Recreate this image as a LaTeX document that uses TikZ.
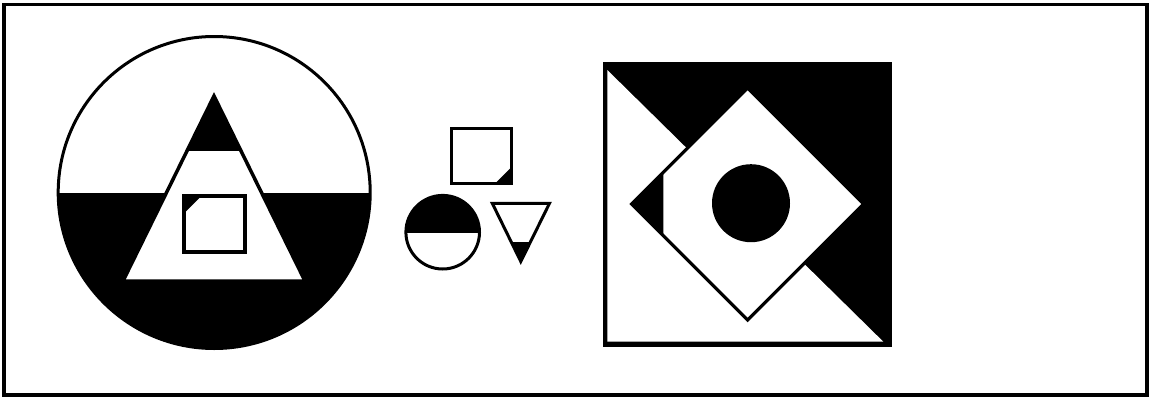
\documentclass[tikz,border=0pt]{standalone}
\begin{document}
\begin{tikzpicture}[x=1pt,y=-1pt,
  outline/.style={draw=black,line join=miter,fill=white},
  solid/.style={fill=black}]
\useasboundingbox (0,0) rectangle (1149,397);
\fill[white] (0,0) rectangle (1149,397);
% frame
\draw[line width=3.7] (4.3,4.5) rectangle (1147,395);

% ---- left circle ----
\coordinate (C1) at (214.2,192.5);
\begin{scope}
  \clip (C1) circle (156);
  \fill[black] (50,192.5) rectangle (380,360);
\end{scope}
\draw[line width=3] (C1) circle (156);
% triangle
\coordinate (TA) at (214,96);
\coordinate (TL) at (123,281);
\coordinate (TR) at (305,281);
\draw[outline,line width=3.5] (TA) -- (TL) -- (TR) -- cycle;
\begin{scope}
  \clip (TA) -- (TL) -- (TR) -- cycle;
  \fill[black] (100,80) rectangle (330,151);
\end{scope}
% inner square
\draw[outline,line width=4] (184,196.3) rectangle (245.3,252.3);
\fill[solid] (184,196.3) -- (201,196.3) -- (184,213.3) -- cycle;

% ---- middle ----
\draw[outline,line width=3] (451,128.2) rectangle (511.8,183.5);
\fill[solid] (511.8,183.5) -- (495,183.5) -- (511.8,166.7) -- cycle;

\coordinate (C2) at (442.7,232.2);
\begin{scope}
  \clip (C2) circle (36.8);
  \fill[white] (400,190) rectangle (490,275);
  \fill[black] (400,190) rectangle (490,233);
\end{scope}
\draw[line width=3] (C2) circle (36.8);

\coordinate (VA) at (492.3,203.3);
\coordinate (VB) at (549.5,203.3);
\coordinate (VC) at (520.8,261.5);
\draw[outline,line width=3] (VA) -- (VB) -- (VC) -- cycle;
\begin{scope}
  \clip (VA) -- (VB) -- (VC) -- cycle;
  \fill[black] (480,241.7) rectangle (560,270);
\end{scope}

% ---- right square ----
\fill[black] (603.3,61.7) rectangle (891.7,346.7);
\fill[white] (607.3,70) -- (607.3,341.7) -- (883.3,341.7) -- cycle;
\coordinate (DT) at (747.6,88);
\coordinate (DR) at (863.6,204);
\coordinate (DB) at (747.6,320);
\coordinate (DL) at (631.6,204);
\draw[outline,line width=3.3] (DT) -- (DR) -- (DB) -- (DL) -- cycle;
\fill[solid] (DL) -- (663.3,172.3) -- (663.3,235.7) -- cycle;
\fill[black] (751,203.2) circle (39);
\end{tikzpicture}
\end{document}
